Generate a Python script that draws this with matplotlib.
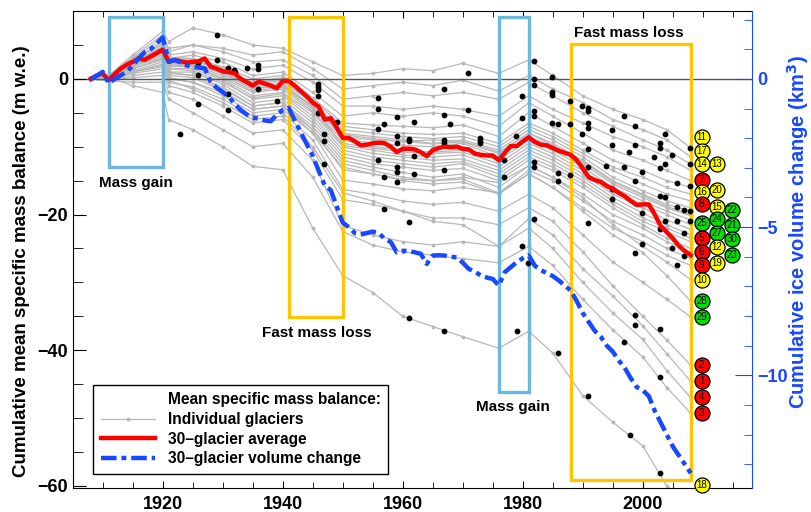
import numpy as np
import matplotlib
matplotlib.use("Agg")
import matplotlib.pyplot as plt
from matplotlib.patches import Rectangle
from matplotlib.lines import Line2D

plt.rcParams['font.family'] = ['Liberation Sans', 'DejaVu Sans']
plt.rcParams['font.weight'] = 'bold'
plt.rcParams['axes.labelweight'] = 'bold'

# ---- data -------------------------------------------------------------
years = np.arange(1908, 2009)

# 30-glacier average cumulative mass balance (m w.e.), 1908..2008
avg_mb = [0, 0.5, 0.8, -0.2, 0.7, 1.5, 2.1, 2.5, 3.0, 2.8, 3.3, 3.8, 4.3,
          2.5, 2.8, 2.6, 2.4, 2.5, 2.6, 3.0, 1.8, 1.5, 1.1, 1.0, 0.8, 0.0,
          -0.5, -1.0, -0.4, -0.7, -1.0, -1.4, -0.3, -0.3, -1.0, -1.8, -2.6,
          -3.5, -4.1, -6.0, -5.8, -7.2, -8.7, -8.7, -9.2, -9.8, -9.7, -9.5,
          -9.4, -9.5, -10.0, -10.8, -10.3, -10.3, -10.4, -10.8, -11.4, -10.5,
          -10.2, -10.0, -10.1, -10.0, -10.3, -10.4, -11.0, -11.2, -11.3, -11.3,
          -12.0, -10.9, -9.9, -9.9, -9.2, -8.6, -9.3, -9.7, -9.8, -10.2, -10.6,
          -10.9, -11.2, -12.0, -13.2, -14.5, -14.9, -15.2, -15.8, -16.2, -16.8,
          -17.3, -18.0, -18.6, -18.5, -18.5, -20.0, -21.7, -22.6, -23.5, -24.6,
          -25.4, -26.0]

# 30-glacier cumulative volume change (km3), 1908..2008
vol_change = [0, 0.1, 0.24, -0.15, 0.0, 0.12, 0.24, 0.45, 0.7, 0.9, 1.0, 1.2,
              1.4, 0.58, 0.64, 0.55, 0.45, 0.41, 0.38, 0.36, -0.1, -0.3, -0.45,
              -0.6, -0.85, -1.05, -1.2, -1.3, -1.35, -1.4, -1.43, -1.21, -1.05,
              -0.98, -1.4, -1.8, -2.2, -2.6, -3.1, -3.6, -3.75, -4.3, -4.85,
              -5.0, -5.2, -5.25, -5.2, -5.15, -5.2, -5.4, -5.5, -5.85, -5.8,
              -5.8, -5.85, -5.9, -6.24, -5.96, -5.95, -5.96, -6.0, -6.02, -6.2,
              -6.41, -6.5, -6.63, -6.7, -6.75, -6.97, -6.52, -6.35, -6.18, -6.05,
              -5.96, -6.3, -6.45, -6.55, -6.65, -6.8, -6.97, -7.14, -7.5, -7.9,
              -8.2, -8.5, -8.7, -9.0, -9.2, -9.5, -9.75, -10.1, -10.4, -10.5,
              -10.7, -11.2, -11.6, -12.0, -12.4, -12.7, -13.0, -13.3]

# individual glaciers, read at these years
glacier_years = [1908, 1911, 1915, 1920, 1921, 1925, 1930, 1935, 1940, 1945, 1950,
                 1955, 1960, 1965, 1970, 1976, 1981, 1985, 1990, 1995, 2000, 2004, 2008]
glacier_mb = {
    11: [0, 0.5, 3.5, 7.0, 5.5, 7.5, 6.5, 5.0, 4.5, 2.5, 0.5, 0.8, 1.5, 1.2, 2.3, 0.8, 2.8, 0.5, -2.5, -4.5, -6.0, -7.5, -10.2],
    17: [0, 0.4, 3.0, 6.0, 4.0, 5.0, 4.5, 3.5, 4.0, 1.5, -1.5, -1.0, -0.5, -1.0, -0.2, -1.8, 0.5, -1.5, -3.5, -6.0, -7.5, -9.0, -11.5],
    14: [0, 0.3, 3.2, 6.5, 4.5, 5.0, 4.0, 2.5, 2.8, 0.5, -3.0, -2.5, -2.0, -2.5, -2.0, -3.0, -0.5, -2.5, -5.0, -7.0, -9.0, -10.5, -12.6],
    13: [0, 0.2, 2.8, 5.5, 3.5, 4.0, 3.0, 1.5, 2.0, -0.5, -4.0, -4.0, -4.5, -4.0, -4.5, -5.5, -2.5, -4.5, -6.5, -8.5, -10.0, -11.5, -13.5],
    7: [0, -0.2, 3.0, 5.0, 3.0, 3.5, 2.5, 0.5, 1.0, -2.0, -5.5, -5.0, -5.5, -5.0, -5.5, -7.0, -3.5, -5.5, -8.0, -10.5, -12.0, -13.5, -15.0],
    16: [0, 0.1, 2.5, 4.8, 2.8, 3.0, 1.8, 0.0, 0.5, -2.8, -6.5, -6.8, -7.0, -7.2, -6.8, -8.5, -5.0, -7.0, -9.5, -12.0, -13.5, -15.0, -16.0],
    20: [0, 0.0, 2.2, 4.5, 2.5, 2.6, 1.5, -0.5, 0.2, -3.0, -7.0, -7.5, -8.0, -8.2, -8.0, -9.5, -6.5, -8.0, -10.5, -13.0, -14.5, -16.0, -17.0],
    8: [0, -0.1, 2.8, 5.2, 3.2, 3.0, 1.2, -1.0, -0.5, -3.5, -7.5, -8.0, -8.5, -8.8, -8.5, -10.0, -7.0, -8.5, -11.0, -13.5, -15.5, -17.0, -18.0],
    15: [0, 0.2, 2.4, 4.0, 2.2, 2.4, 1.0, -1.2, -0.8, -4.0, -8.0, -8.5, -9.0, -9.5, -9.0, -10.5, -7.5, -9.0, -11.5, -14.5, -16.5, -18.0, -19.0],
    22: [0, 0.0, 2.0, 3.8, 2.0, 2.2, 0.8, -1.5, -1.0, -4.2, -8.5, -9.0, -9.2, -9.0, -9.2, -10.8, -8.0, -9.5, -12.0, -15.0, -17.0, -18.5, -19.5],
    26: [0, 0.2, 2.4, 4.4, 2.6, 2.8, 1.6, -0.6, 0.0, -3.2, -8.2, -8.8, -9.2, -9.6, -9.3, -11.0, -8.0, -9.8, -12.2, -15.2, -17.2, -18.8, -20.0],
    24: [0, 0.3, 2.6, 4.6, 2.6, 2.6, 1.5, -0.8, -0.2, -3.5, -8.8, -9.5, -9.8, -10.0, -9.5, -11.5, -8.5, -10.0, -12.5, -15.5, -17.5, -19.0, -20.2],
    25: [0, -0.1, 2.2, 4.0, 2.0, 2.0, 0.5, -1.8, -1.2, -4.5, -9.0, -10.0, -10.5, -10.8, -10.5, -12.0, -9.0, -10.5, -13.0, -16.0, -18.0, -19.5, -20.8],
    21: [0, 0.1, 2.0, 3.5, 1.8, 1.8, 0.2, -2.0, -1.5, -4.8, -9.5, -10.2, -10.8, -11.0, -10.8, -12.5, -9.5, -11.0, -13.5, -16.5, -18.5, -20.0, -21.5],
    27: [0, 0.2, 2.5, 4.2, 2.4, 2.2, 0.8, -1.5, -0.8, -4.0, -9.8, -10.5, -11.2, -11.5, -11.2, -13.0, -10.0, -11.5, -14.0, -17.0, -19.0, -20.8, -22.2],
    5: [0, -0.3, 2.0, 4.0, 2.0, 1.8, 0.0, -2.5, -2.0, -5.0, -10.0, -11.0, -11.5, -12.0, -11.8, -13.5, -10.5, -12.0, -14.5, -17.5, -19.8, -21.5, -23.0],
    30: [0, 0.0, 1.8, 3.2, 1.5, 1.2, -0.5, -2.8, -2.2, -5.5, -10.5, -11.5, -12.0, -12.5, -12.2, -14.0, -11.0, -12.5, -15.0, -18.0, -20.5, -22.0, -23.5],
    12: [0, 0.1, 2.0, 3.5, 1.5, 1.5, -0.2, -3.0, -2.5, -6.0, -11.0, -12.0, -12.5, -13.0, -12.5, -14.5, -11.5, -13.0, -15.5, -18.5, -21.0, -22.5, -24.0],
    6: [0, -0.2, 1.5, 3.0, 1.0, 1.0, -0.8, -3.5, -3.0, -6.5, -11.5, -12.5, -13.0, -13.5, -13.2, -15.0, -12.0, -13.5, -16.0, -19.0, -21.5, -23.5, -25.0],
    23: [0, 0.0, 1.5, 2.8, 0.8, 0.5, -1.2, -4.0, -3.5, -7.0, -12.0, -13.0, -13.8, -14.5, -14.0, -16.0, -12.8, -14.5, -17.0, -20.0, -22.0, -24.0, -25.5],
    19: [0, -0.1, 1.2, 2.5, 0.5, 0.2, -1.8, -4.5, -4.0, -7.5, -12.5, -13.5, -14.5, -15.0, -14.8, -16.8, -13.5, -15.0, -18.0, -21.0, -23.0, -25.0, -26.5],
    9: [0, -0.3, 1.0, 2.0, 0.0, -0.5, -2.5, -5.0, -4.5, -8.0, -13.0, -14.0, -15.0, -15.5, -15.2, -17.0, -14.0, -16.0, -19.0, -22.0, -24.0, -26.0, -27.5],
    10: [0, 0.0, 1.5, 3.0, 1.0, 0.5, -1.5, -4.0, -3.5, -7.5, -13.4, -14.0, -14.8, -15.0, -14.5, -15.3, -12.8, -14.5, -17.5, -21.5, -24.7, -27.0, -29.6],
    28: [0, -0.2, 1.0, 2.2, 0.2, -0.5, -2.0, -4.5, -4.0, -8.0, -14.9, -15.5, -16.2, -16.5, -16.0, -16.8, -14.0, -16.0, -19.5, -23.0, -25.6, -29.0, -32.8],
    29: [0, -0.1, 0.8, 1.5, -0.5, -1.2, -3.0, -5.5, -5.0, -9.0, -16.3, -17.0, -18.0, -18.5, -18.2, -19.5, -17.0, -19.0, -23.0, -27.0, -30.0, -32.5, -35.1],
    2: [0, -0.3, 0.5, 1.0, -1.0, -2.0, -4.0, -6.5, -6.0, -10.5, -17.8, -18.5, -19.5, -20.5, -20.5, -21.5, -19.0, -21.0, -25.5, -30.5, -35.0, -38.5, -42.2],
    1: [0, 0.1, 1.0, 1.8, -0.2, -1.5, -3.5, -6.0, -5.5, -10.0, -16.8, -18.0, -19.5, -21.0, -21.5, -24.7, -20.6, -23.0, -28.0, -32.0, -36.4, -40.5, -44.6],
    4: [0, -0.2, 0.2, 0.5, -2.0, -3.0, -5.5, -8.0, -7.5, -12.0, -21.6, -23.0, -24.0, -24.5, -24.0, -24.7, -22.0, -25.0, -30.0, -34.5, -38.4, -43.0, -47.0],
    3: [0, -0.3, -0.5, -0.5, -3.0, -5.0, -7.5, -10.0, -9.5, -14.5, -22.5, -24.5, -25.5, -26.0, -26.5, -27.1, -24.7, -27.5, -32.5, -37.0, -41.0, -45.5, -49.3],
    18: [0, 0.2, -1.0, -2.0, -6.0, -7.5, -10.0, -12.9, -13.4, -22.0, -29.0, -31.5, -35.0, -36.5, -38.0, -39.7, -37.2, -40.4, -46.7, -50.6, -54.1, -60.0, -63.0],
}

# black dots on the glacier curves
dot_years = [1922.9, 1925.9, 1925.9, 1925.9, 1929.0, 1929.0, 1930.9, 1930.9, 1930.9, 1931.8,
             1932.0, 1934.0, 1935.9, 1935.9, 1935.9, 1939.0, 1945.8, 1945.8, 1945.8, 1945.9,
             1945.8, 1946.9, 1946.9, 1946.9, 1949.0, 1955.9, 1955.9, 1955.9, 1955.9, 1956.9,
             1956.9, 1956.9, 1959.0, 1959.0, 1959.0, 1959.0, 1959.0, 1959.0, 1961.0, 1961.0,
             1961.0, 1961.0, 1961.9, 1961.9, 1961.9, 1966.9, 1966.9, 1966.9, 1966.9, 1966.9,
             1966.9, 1967.9, 1970.8, 1970.8, 1972.9, 1972.9, 1972.9, 1976.9, 1976.9, 1978.8,
             1979.8, 1979.8, 1979.8, 1979.0, 1980.8, 1981.9, 1981.9, 1981.9, 1981.9, 1981.9,
             1981.9, 1981.9, 1981.9, 1984.8, 1984.8, 1984.8, 1984.8, 1985.8, 1985.8, 1985.8,
             1985.9, 1987.9, 1987.9, 1987.9, 1989.8, 1989.8, 1990.8, 1990.8, 1990.8, 1990.8,
             1990.8, 1990.8, 1990.8, 1990.9, 1993.9, 1994.8, 1994.8, 1994.8, 1994.8, 1996.8,
             1996.8, 1996.8, 1997.7, 1998.7, 1998.7, 1998.7, 1998.7, 1998.7, 1998.7, 1999.8,
             1999.8, 1999.8, 2002.8, 2002.8, 2002.8, 2002.8, 2002.8, 2002.8, 2002.8, 2002.8,
             1997.9, 2001.8, 2003.7, 2003.7, 2003.7, 2003.7, 2004.8, 2004.8, 2005.7, 2005.7,
             2005.7, 2005.7, 2006.8, 2006.8, 2006.8, 2007.8, 2007.8, 2007.8, 2007.8, 2007.8]
dot_values = [-8.1, 2.3, 0.5, -3.7, 6.5, 2.8, 1.6, -2.2, -4.6, 1.3,
              1.0, 1.6, 2.0, 1.4, -1.5, -3.3, -0.7, -1.2, -1.7, -2.6,
              -5.0, -8.2, -9.1, -12.6, -6.3, -2.8, -4.5, -7.4, -11.9, -6.7,
              -14.5, -19.2, -5.6, -8.4, -9.4, -13.0, -13.7, -15.2, -8.9, -9.2,
              -21.1, -35.2, -6.3, -11.4, -14.0, -1.5, -5.4, -9.0, -9.4, -13.5,
              -37.1, -6.6, 0.9, -4.6, -8.7, -9.1, -9.5, -12.0, -14.5, -8.4,
              -2.6, -5.8, -24.7, -37.2, -27.1, 2.7, 0.0, -0.9, -4.8, -5.5,
              -12.2, -13.0, -20.6, 0.3, -1.9, -2.4, -6.5, -6.7, -13.9, -15.1,
              -40.4, -3.2, -6.7, -14.1, -4.0, -8.1, -4.3, -4.8, -6.5, -7.3,
              -10.3, -13.0, -21.3, -46.7, -12.8, -7.5, -9.8, -16.3, -17.7, -5.5,
              -13.0, -38.8, -10.8, -7.0, -9.7, -15.0, -25.7, -34.8, -36.3, -13.8,
              -19.7, -24.3, -9.5, -10.2, -13.1, -17.2, -22.2, -36.8, -44.0, -58.1,
              -52.5, -11.5, -8.1, -12.5, -17.4, -21.0, -11.2, -24.9, -15.3, -18.9,
              -21.0, -27.4, -19.4, -22.7, -26.1, -10.2, -12.6, -15.8, -19.5, -21.0]

# numbered glacier markers at the right end (three columns)
labels_col1 = {11: -8.6, 17: -10.6, 14: -12.55, 7: -14.85, 16: -16.65, 8: -18.5,
               25: -21.2, 5: -23.4, 6: -25.5, 9: -27.5, 10: -29.6, 28: -32.8,
               29: -35.1, 2: -42.2, 1: -44.6, 4: -46.95, 3: -49.3, 18: -59.8}
labels_col2 = {13: -12.55, 20: -16.4, 15: -18.9, 24: -20.7, 27: -22.7, 12: -24.75, 19: -27.2}
labels_col3 = {22: -19.4, 21: -21.6, 30: -23.6, 23: -25.9}

# ---- figure -----------------------------------------------------------
BLUE = '#1848ff'
GRAY = '#b8b8b8'
SKY = '#6db6de'
GOLD = '#ffc400'

fig = plt.figure(figsize=(8.12, 5.12), dpi=100)
ax = fig.add_axes([0.0899, 0.0469, 0.8362, 0.9316])

for g, vals in glacier_mb.items():
    ax.plot(glacier_years, vals, color=GRAY, lw=0.9, marker='o', ms=1.8, zorder=1)

ax.axhline(0, color='#555555', lw=1.0, zorder=1.5)

# periods of mass gain / fast mass loss
boxes = [(1911, 1920, -13.0, 9.07, SKY), (1941, 1950, -35.1, 9.07, GOLD),
         (1976, 1981, -46.1, 9.07, SKY), (1988, 2008, -59.1, 5.1, GOLD)]
for x0, x1, y0, y1, c in boxes:
    ax.add_patch(Rectangle((x0, y0), x1 - x0, y1 - y0, fill=False, ec=c, lw=2.4, zorder=2))

ax.text(1915.5, -15.3, 'Mass gain', ha='center', va='center', fontsize=11)
ax.text(1945.6, -37.4, 'Fast mass loss', ha='center', va='center', fontsize=11)
ax.text(1978.4, -48.4, 'Mass gain', ha='center', va='center', fontsize=11)
ax.text(1997.7, 6.8, 'Fast mass loss', ha='center', va='center', fontsize=11)

ax.scatter(dot_years, dot_values, s=10, color='black', zorder=3)

ax.plot(years, avg_mb, color='red', lw=3.2, zorder=4)

# numbered circles
def colour_for(n):
    if n <= 9:
        return '#ff0000'
    if n <= 20:
        return '#ffff00'
    return '#00e000'

for xpos, d in [(2009.8, labels_col1), (2012.3, labels_col2), (2014.8, labels_col3)]:
    for n, yv in d.items():
        ax.plot(xpos, yv, 'o', ms=10.8, mfc=colour_for(n), mec='black', mew=0.9,
                clip_on=False, zorder=6)
        ax.text(xpos, yv, str(n), ha='center', va='center', fontsize=7,
                fontweight='normal', zorder=7, clip_on=False)

ax.set_xlim(1905.05, 2018.2)
ax.set_ylim(-60.3, 10.0)
ax.set_xticks([1920, 1940, 1960, 1980, 2000])
ax.set_xticks(np.arange(1910, 2020, 5), minor=True)
ax.set_yticks([0, -20, -40, -60])
ax.set_yticks(np.arange(5, -61, -5), minor=True)
ax.tick_params(axis='both', which='both', direction='in', labelsize=13,
               top=True, right=False)
ax.tick_params(axis='x', which='major', length=5, pad=6)
ax.tick_params(axis='x', which='minor', length=4)
ax.tick_params(axis='y', which='major', length=9)
ax.tick_params(axis='y', which='minor', length=7)
ax.set_yticklabels(['0', '\u221220', '\u221240', '\u221260'])
ax.spines['right'].set_visible(False)
ax.set_ylabel('Cumulative mean specific mass balance (m w.e.)', fontsize=13.5)
ax.yaxis.set_label_coords(-0.063, 0.476)

ax2 = ax.twinx()
ax2.plot(years, vol_change, color=BLUE, lw=3.2, linestyle=(0, (3.5, 1.1, 1.1, 1.1)), zorder=5)
ax2.set_ylim(-13.8, 2.29)
ax2.set_yticks([0, -5, -10])
ax2.set_yticklabels(['0', '\u22125', '\u221210'])
ax2.set_yticks(np.arange(2, -14, -1), minor=True)
ax2.tick_params(axis='y', which='both', direction='in', colors=BLUE, labelsize=13)
ax2.tick_params(axis='y', which='major', length=12)
ax2.tick_params(axis='y', which='minor', length=6)
for s in ['left', 'top', 'bottom']:
    ax2.spines[s].set_visible(False)
ax2.spines['right'].set_color(BLUE)
ax2.set_ylabel('Cumulative ice volume change (km$^\\mathbf{3}$)', color=BLUE, fontsize=14.5)
ax2.yaxis.set_label_coords(1.049, 0.537)

handles = [Line2D([], [], color='none'),
           Line2D([], [], color=GRAY, lw=0.9, marker='o', ms=1.8),
           Line2D([], [], color='red', lw=3.2),
           Line2D([], [], color=BLUE, lw=3.2, linestyle=(0, (3.5, 1.1, 1.1, 1.1)))]
leg_labels = ['Mean specific mass balance:', 'Individual glaciers',
              '30\u2013glacier average', '30\u2013glacier volume change']
leg = ax2.legend(handles, leg_labels, loc='lower left', bbox_to_anchor=(0.0295, 0.029),
                 borderaxespad=0, fancybox=False, edgecolor='black', fontsize=11.2,
                 handlelength=3.5, handletextpad=0.8, labelspacing=0.3,
                 borderpad=0.5, framealpha=1)
leg.get_frame().set_linewidth(1.0)

fig.savefig('out.png', dpi=100)
